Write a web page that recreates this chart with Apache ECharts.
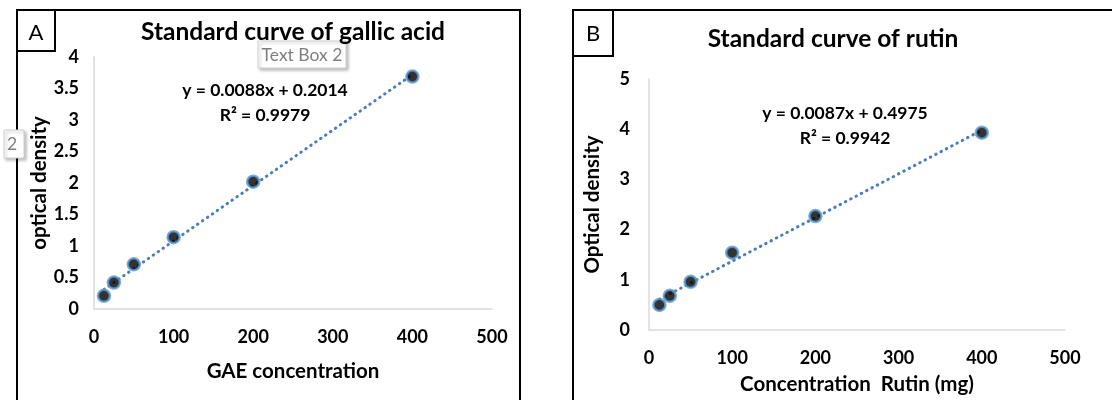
<!DOCTYPE html>
<html>
<head>
<meta charset="utf-8">
<script src="https://cdn.jsdelivr.net/npm/echarts@6/dist/echarts.min.js"></script>
<style>
  html, body { margin: 0; padding: 0; background: #fff; }
  #chart { width: 1112px; height: 400px; }
</style>
</head>
<body>
<div id="chart"></div>
<script>
// panel A - gallic acid
var gallicConc = [12.5, 25, 50, 100, 200, 400];
var gallicOD = [0.21, 0.42, 0.71, 1.14, 2.02, 3.69];
var gallicTrendX = [12.5, 400];
var gallicTrendY = [0.31, 3.72];

// panel B - rutin
var rutinConc = [12.5, 25, 50, 100, 200, 400];
var rutinOD = [0.50, 0.68, 0.96, 1.54, 2.27, 3.93];
var rutinTrendX = [12.5, 400];
var rutinTrendY = [0.61, 3.98];

var font = 'Lato, "Open Sans", sans-serif';
var trendColor = '#4A7EBB';

function pairs(xs, ys) {
  return xs.map(function (x, i) { return [x, ys[i]]; });
}

function xAxisOf(idx, name, gap) {
  return {
    type: 'value', gridIndex: idx, min: 0, max: 500, interval: 100,
    name: name, nameLocation: 'middle', nameGap: gap,
    nameTextStyle: { fontFamily: font, fontWeight: 'bold', fontSize: 20.5, color: '#000' },
    axisLine: { lineStyle: { color: '#d9d9d9', width: 1.5 } },
    axisTick: { show: false },
    splitLine: { show: false },
    axisLabel: { margin: 19, fontFamily: font, fontWeight: 'bold', fontSize: 18, color: '#000' }
  };
}

function yAxisOf(idx, name, max, step, gap, margin) {
  return {
    type: 'value', gridIndex: idx, min: 0, max: max, interval: step,
    name: name, nameLocation: 'middle', nameGap: gap,
    nameTextStyle: { fontFamily: font, fontWeight: 'bold', fontSize: 20.5, color: '#000' },
    axisLine: { show: true, lineStyle: { color: '#d9d9d9', width: 1.5 } },
    axisTick: { show: false },
    splitLine: { show: false },
    axisLabel: { margin: margin, fontFamily: font, fontWeight: 'bold', fontSize: 18, color: '#000' }
  };
}

function pointsOf(idx, data) {
  return {
    type: 'scatter', xAxisIndex: idx, yAxisIndex: idx, data: data,
    symbolSize: 12, z: 3,
    itemStyle: { color: '#000', borderColor: '#5B9BD5', borderWidth: 2.5 }
  };
}

function trendOf(idx, data) {
  return {
    type: 'line', xAxisIndex: idx, yAxisIndex: idx, data: data,
    symbol: 'none', z: 2,
    lineStyle: { color: trendColor, width: 3, type: [0.5, 5.5], cap: 'round' }
  };
}

function label(x, y, text, size, weight, color) {
  return {
    type: 'text', x: x, y: y, z: 11,
    style: { text: text, fontFamily: font, fontSize: size, fontWeight: weight || 'normal',
      fill: color || '#000', textAlign: 'center', textVerticalAlign: 'middle' }
  };
}

function box(x, y, w, h) {
  return { type: 'rect', shape: { x: x, y: y, width: w, height: h },
    style: { fill: 'none', stroke: '#000', lineWidth: 2 } };
}

function textBox(x, y, w, h) {
  return { type: 'rect', z: 10, shape: { x: x, y: y, width: w, height: h },
    style: { fill: '#fff', stroke: '#d0d0d0', lineWidth: 1, shadowBlur: 3, shadowOffsetX: 2,
      shadowOffsetY: 2, shadowColor: 'rgba(0,0,0,0.25)' } };
}

var chart = echarts.init(document.getElementById('chart'));
chart.setOption({
  backgroundColor: '#fff',
  animation: false,
  grid: [
    { left: 94, right: 620, top: 57, bottom: 91 },
    { left: 649, right: 47, top: 79, bottom: 70 }
  ],
  xAxis: [
    xAxisOf(0, 'GAE concentration', 52),
    xAxisOf(1, 'Concentration  Rutin (mg)', 44)
  ],
  yAxis: [
    yAxisOf(0, 'optical density', 4, 0.5, 44, 15),
    yAxisOf(1, 'Optical density', 5, 1, 46, 19)
  ],
  series: [
    trendOf(0, pairs(gallicTrendX, gallicTrendY)),
    pointsOf(0, pairs(gallicConc, gallicOD)),
    trendOf(1, pairs(rutinTrendX, rutinTrendY)),
    pointsOf(1, pairs(rutinConc, rutinOD))
  ],
  graphic: [
    // panel frames
    { type: 'polyline', shape: { points: [[17, 402], [17, 10], [520, 10], [520, 402]] },
      style: { fill: 'none', stroke: '#000', lineWidth: 2 } },
    { type: 'polyline', shape: { points: [[573, 402], [573, 10], [1114, 10]] },
      style: { fill: 'none', stroke: '#000', lineWidth: 2 } },
    box(17, 10, 38, 41),
    box(573, 10, 40, 46),
    label(36, 33, 'A', 22),
    label(593, 34, 'B', 22),
    // titles
    label(293, 32, 'Standard curve of gallic acid', 24.5, 'bold'),
    label(833, 39, 'Standard curve of rutin', 24.5, 'bold'),
    // stray text boxes
    textBox(258, 41, 88, 27),
    label(302, 55, 'Text Box 2', 17.5, 'normal', '#7f7f7f'),
    textBox(4, 130, 20, 28),
    label(12, 144, '2', 17.5, 'normal', '#7f7f7f'),
    // regression equations
    label(265, 90, 'y = 0.0088x + 0.2014', 17.5, 'bold'),
    label(265, 115, 'R\u00b2 = 0.9979', 17.5, 'bold'),
    label(845, 113, 'y = 0.0087x + 0.4975', 17.5, 'bold'),
    label(845, 138, 'R\u00b2 = 0.9942', 17.5, 'bold')
  ]
});
</script>
</body>
</html>
